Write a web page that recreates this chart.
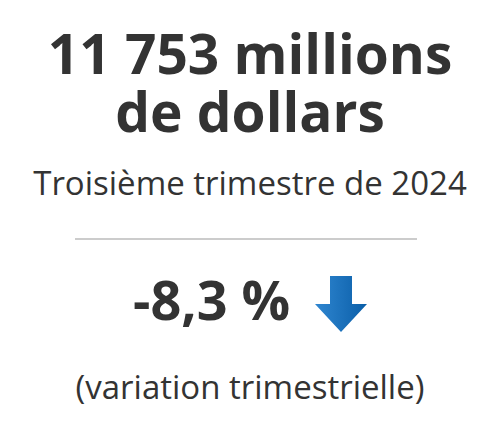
<!DOCTYPE html>
<html><head><meta charset="utf-8">
<script src="https://cdn.jsdelivr.net/npm/chart.js@4"></script>
<style>
body{margin:0;width:500px;height:446px;background:#fff;font-family:"Open Sans",sans-serif;color:#333;position:relative;overflow:hidden}
.t{position:absolute;left:0;width:500px;text-align:center;white-space:nowrap}
</style></head><body>
<div class="t" style="top:24px;font-size:55px;font-weight:700;line-height:58px">11 753 millions<br>de dollars</div>
<div class="t" style="top:160px;font-size:33px">Troisième trimestre de 2024</div>
<div style="position:absolute;left:75px;top:238px;width:342px;height:2px;background:#ccc"></div>
<div style="position:absolute;left:133px;top:264px;font-size:54px;font-weight:700;white-space:nowrap;line-height:70px">-8,3 %</div>
<svg style="position:absolute;left:314px;top:275px" width="54" height="58" viewBox="0 0 54 58">
<defs><linearGradient id="g" x1="0" x2="1"><stop offset="0" stop-color="#2f86d0"/><stop offset="1" stop-color="#0a5ea8"/></linearGradient></defs>
<path d="M16 1 H38 V29 H53 L27 57 L1 29 H16 Z" fill="url(#g)"/></svg>
<div class="t" style="top:364px;font-size:33px">(variation trimestrielle)</div>
</body></html>
